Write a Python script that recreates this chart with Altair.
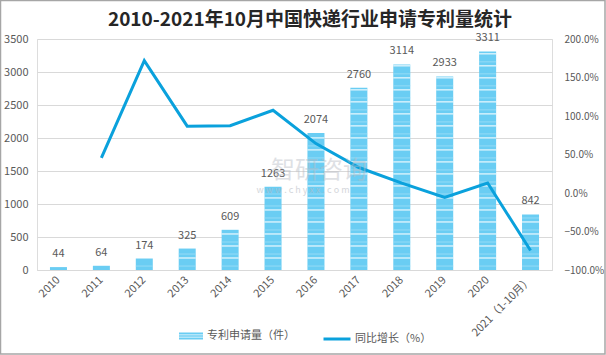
import altair as alt
import pandas as pd

years = ["2010", "2011", "2012", "2013", "2014", "2015", "2016", "2017",
         "2018", "2019", "2020", "2021（1-10月）"]
patents = [44, 64, 174, 325, 609, 1263, 2074, 2760, 3114, 2933, 3311, 842]
growth = [None, 0.455, 1.719, 0.868, 0.874, 1.074, 0.642, 0.331, 0.128, -0.058, 0.129, -0.746]

BAR_NAME = "专利申请量（件）"
LINE_NAME = "同比增长（%）"
TITLE = "2010-2021年10月中国快递行业申请专利量统计"

df = pd.DataFrame({"year": years, "patents": patents, "growth": growth})
df["bar_series"] = BAR_NAME
df["line_series"] = LINE_NAME

FONT = "Noto Sans CJK SC"
BAR_COLOR = "#6ACDF3"
LINE_COLOR = "#0AA1DC"
TEXT_COLOR = "#595959"
W, H = 515, 231

base = alt.Chart(df)

x_axis = alt.Axis(labelAngle=-45, labelAlign="right", labelBaseline="middle",
                  labelPadding=8, ticks=False, domainColor="#d9d9d9",
                  labelColor=TEXT_COLOR, labelFontSize=11, labelFont=FONT)
x_scale = alt.Scale(paddingInner=0.0, paddingOuter=0.0)
x_enc = alt.X("year:N", sort=years, title=None, scale=x_scale, axis=x_axis)

yscale = alt.Scale(domain=[0, 3500], nice=False, zero=True)
y_axis = alt.Axis(values=list(range(0, 3501, 500)), format="d", ticks=False, domain=False,
                  gridColor="#d9d9d9", labelColor=TEXT_COLOR, labelFontSize=11,
                  labelFont=FONT, labelPadding=9)

bars = base.mark_bar(size=17).encode(
    x=x_enc,
    y=alt.Y("patents:Q", scale=yscale, title=None, axis=y_axis),
    fill=alt.Fill("bar_series:N", scale=alt.Scale(domain=[BAR_NAME], range=[BAR_COLOR]),
                  legend=alt.Legend(title=None, orient="none", legendX=142, legendY=285,
                                    symbolType="M-1,-0.3H1V-0.12H-1Z M-1,-0.06H1V0.06H-1Z M-1,0.12H1V0.3H-1Z",
                                    symbolSize=576, symbolStrokeWidth=0,
                                    labelFont=FONT, labelFontSize=11, labelColor=TEXT_COLOR,
                                    labelOffset=4, padding=0)),
)

stripes = base.transform_calculate(
    seg="sequence(182, datum.patents, 182)"
).transform_flatten(["seg"]).transform_filter("isValid(datum.seg)").mark_tick(
    size=17, thickness=1.5, color="white", orient="horizontal"
).encode(x=x_enc, y=alt.Y("seg:Q", scale=yscale, title=None, axis=y_axis))

stripes2 = base.transform_calculate(
    seg="sequence(60, datum.patents - 20, 182)"
).transform_flatten(["seg"]).transform_filter("isValid(datum.seg)").mark_tick(
    size=17, thickness=1, color="#A6E1F8", orient="horizontal"
).encode(x=x_enc, y=alt.Y("seg:Q", scale=yscale, title=None, axis=y_axis))

labels = base.mark_text(dy=-13, baseline="middle", font=FONT, fontSize=11, color=TEXT_COLOR).encode(
    x=x_enc, y=alt.Y("patents:Q", scale=yscale, title=None, axis=y_axis), text="patents:Q"
)

bar_group = alt.layer(bars, stripes2, stripes, labels)

line = base.transform_filter("isValid(datum.growth)").mark_line(strokeWidth=3).encode(
    x=x_enc,
    y=alt.Y("growth:Q", scale=alt.Scale(domain=[-1, 2], nice=False), title=None,
            axis=alt.Axis(orient="right", values=[-1, -0.5, 0, 0.5, 1, 1.5, 2], format=".1%",
                          ticks=False, domain=False, grid=False, labelColor=TEXT_COLOR,
                          labelFontSize=10, labelFont=FONT, labelPadding=12)),
    stroke=alt.Stroke("line_series:N", scale=alt.Scale(domain=[LINE_NAME], range=[LINE_COLOR]),
                      legend=alt.Legend(title=None, orient="none", legendX=285, legendY=285,
                                        symbolType="stroke", symbolSize=729,
                                        symbolStrokeWidth=3,
                                        labelFont=FONT, labelFontSize=11, labelColor=TEXT_COLOR,
                                        labelOffset=3, padding=0)),
)

one = alt.Chart(alt.Data(values=[{"a": 1}]))
title_mark = one.mark_text(text=TITLE, font=FONT, fontSize=19, fontWeight="bold", color="#262626",
                           align="center", baseline="middle").encode(x=alt.value(273), y=alt.value(-19))
wm1 = one.mark_text(text="智研咨询", font=FONT, fontSize=24, color="#b8bcc4", opacity=0.45,
                    align="center", baseline="middle").encode(x=alt.value(282), y=alt.value(132))
wm2 = one.mark_text(text="w w w . c h y x x . c o m", font=FONT, fontSize=9, color="#b8bcc4",
                    opacity=0.6, align="center", baseline="middle").encode(x=alt.value(266), y=alt.value(151))
border = one.mark_rect(fillOpacity=0, stroke="#a6a6a6", strokeWidth=1.5).encode(
    x=alt.value(-36.5), x2=alt.value(568), y=alt.value(-38.5), y2=alt.value(315)
)

chart = alt.layer(bar_group, line, wm1, wm2, title_mark, border).resolve_scale(
    y="independent", fill="independent", stroke="independent"
).properties(
    width=W, height=H,
    padding={"left": 37, "top": 39, "right": 54, "bottom": 85},
    autosize=alt.AutoSizeParams(type="none"),
).configure_view(stroke=None).configure(background="white")

chart.save("out.html", embed_options={"renderer": "svg", "actions": False})
